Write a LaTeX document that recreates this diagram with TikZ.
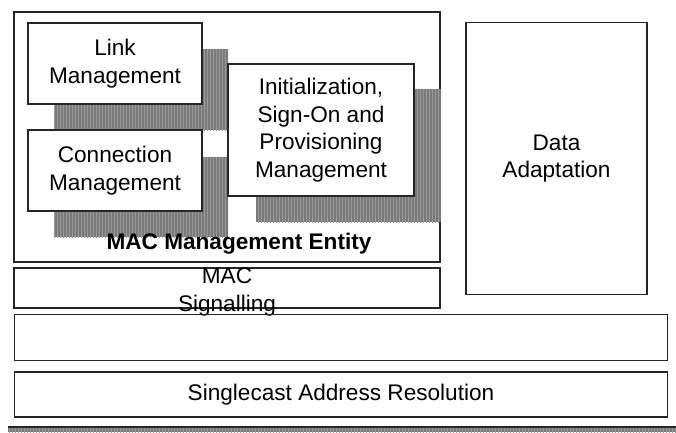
\documentclass[tikz,border=0pt]{standalone}
\usepackage{fontspec}
\setmainfont{Liberation Sans}
\usetikzlibrary{patterns}
\begin{document}
\begin{tikzpicture}[x=1pt,y=-1pt,
  box/.style={draw=black!85,line width=1.6pt,fill=white,inner sep=0pt,align=center,
    font=\fontsize{22.6}{27.5}\selectfont},
  plainbox/.style={draw=black!85,line width=1.6pt,inner sep=0pt},
  lbl/.style={inner sep=0pt,align=center,font=\fontsize{22.6}{27.5}\selectfont},
  shade/.style={fill=black!52},
  stripes/.style={pattern=vertical lines,pattern color=black!40}]
\useasboundingbox (0,0) rectangle (676,432);
\fill[white] (0,0) rectangle (676,432);
% outer MAC management entity box
\node[plainbox,minimum width=426pt,minimum height=250pt] (mme) at (227,137) {};
% shadows
\foreach \a/\b/\c/\d in {54/49/228/130, 54/157/228/237, 256/89/441/222}{
  \fill[shade] (\a,\b) rectangle (\c,\d);
  \fill[stripes] (\a,\b) rectangle (\c,\d);
}
% inner boxes
\node[box,minimum width=174pt,minimum height=81pt] (link) at (115,63.5) {Link\\Management};
\node[box,minimum width=174pt,minimum height=81pt] (conn) at (115,170.5) {Connection\\Management};
\node[box,minimum width=186pt,minimum height=132pt] (init) at (321,130) {Initialization,\\Sign-On and\\Provisioning\\Management};
\node[lbl,font=\fontsize{22.6}{27.5}\selectfont\bfseries] (mmetext) at (239,244) {MAC Management Entity};
% MAC signalling
\node[plainbox,minimum width=426pt,minimum height=40pt] (sig) at (227,288) {};
\node[lbl] (sigtext) at (227,292) {MAC\\Signalling};
% data adaptation
\node[box,minimum width=181pt,minimum height=272pt] (data) at (556.5,158.5) {Data\\Adaptation};
% full width boxes
\node[plainbox,minimum width=653pt,minimum height=46pt] (empty) at (341,337.5) {};
\node[box,minimum width=653pt,minimum height=45pt] (sar) at (341,394.5) {Singlecast Address Resolution};
% bottom bar
\coordinate (bl) at (8,427);
\coordinate (br) at (676,427);
\fill[shade] (8,428) rectangle (676,432);
\fill[stripes] (8,428) rectangle (676,432);
\draw[black!85,line width=1.8pt] (bl) -- (br);
\end{tikzpicture}
\end{document}
